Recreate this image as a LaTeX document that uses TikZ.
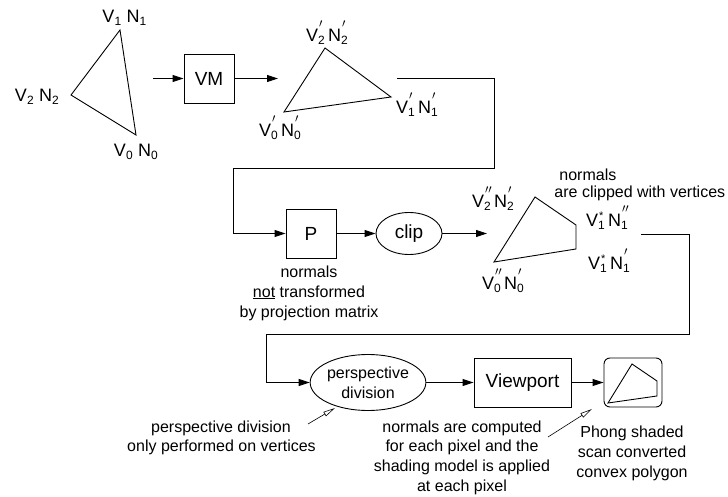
\documentclass[tikz,border=0pt]{standalone}
\usepackage{fontspec}
\setmainfont{Liberation Sans}
\usetikzlibrary{arrows.meta,shapes.geometric}
\newcommand\SB[2]{\makebox[7pt][l]{\rlap{\raisebox{-3pt}{\fontsize{12}{12}\selectfont #1}}#2}}
\newcommand\PR{\raisebox{14pt}{\hspace{1pt}$\scriptstyle\prime$}}
\newcommand\PPR{\raisebox{14pt}{\hspace{1pt}$\scriptstyle\prime\prime$}}
\newcommand\ST{\raisebox{7pt}{\hspace{1pt}\fontsize{11}{11}\selectfont *}}
\tikzset{
  box/.style={draw, minimum width=50pt, minimum height=49pt, inner sep=0pt, font=\fontsize{19}{22}\selectfont},
  ell/.style={draw, ellipse, inner sep=0pt},
  arr/.style={-{Triangle[length=11pt,width=7pt]}},
  narr/.style={-{Triangle[open,length=12pt,width=5pt]}, line width=0.6pt},
  vlab/.style={font=\fontsize{18}{20}\selectfont, inner sep=0pt},
  note/.style={font=\fontsize{16}{20}\selectfont, inner sep=0pt, anchor=base},
  poly/.style={line join=miter},
}
\begin{document}
\begin{tikzpicture}[x=1pt,y=-1pt,line width=0.9pt]
\useasboundingbox (0,0) rectangle (728,497);
% triangle 1
\coordinate (a1) at (120,30);
\coordinate (a2) at (71,95);
\coordinate (a0) at (136,135);
\draw[poly] (a1) -- (a2) -- (a0) -- cycle;
\node[vlab] (la1) at (124.5,18) {V\SB{1}{}\ N\SB{1}{}};
\node[vlab] (la2) at (37,97) {V\SB{2}{}\ N\SB{2}{}};
\node[vlab] (la0) at (136,152) {V\SB{0}{}\ N\SB{0}{}};
% VM
\node[box] (vm) at (209,78.5) {VM};
\coordinate (in0) at (153,78.5);
\coordinate (t2in) at (278,78.5);
\draw[arr] (in0) -- (vm);
\draw[arr] (vm) -- (t2in);
% triangle 2
\coordinate (b2) at (325,48);
\coordinate (b0) at (284,112);
\coordinate (b1) at (391,97);
\draw[poly] (b2) -- (b0) -- (b1) -- cycle;
\node[vlab] (lb2) at (327,33) {V\SB{2}{\PR}\,N\SB{2}{\PR}};
\node[vlab] (lb0) at (280,128) {V\SB{0}{\PR}\,N\SB{0}{\PR}};
\node[vlab] (lb1) at (417,105) {V\SB{1}{\PR}\,N\SB{1}{\PR}};
% loop 1
\coordinate (l1s) at (397,78.5);
\coordinate (l1b) at (494,168);
\coordinate (l1d) at (233,233.5);
% P and clip
\node[box] (p) at (311,233.5) {P};
\node[ell, minimum width=66pt, minimum height=42pt, font=\fontsize{19}{22}\selectfont] (clip) at (409,233.5) {clip};
\draw[arr] (l1s) -| (l1b) -| (l1d) -- (p);
\draw[arr] (p) -- (clip);
\coordinate (c2in) at (487,233.5);
\draw[arr] (clip) -- (c2in);
\node[note] (pn1) at (309,277) {normals};
\node[note] (pn2) at (309,297) {\underline{not} transformed};
\node[note] (pn3) at (309,317) {by projection matrix};
% clipped polygon
\coordinate (c2) at (535,197);
\coordinate (c1a) at (576,225);
\coordinate (c1b) at (576,249);
\coordinate (c0) at (494,262);
\draw[poly] (c2) -- (c1a) -- (c1b) -- (c0) -- cycle;
\node[vlab] (lc2) at (493,199) {V\SB{2}{\PPR}\,N\SB{2}{\PR}};
\node[vlab] (lc0) at (503,281) {V\SB{0}{\PPR}\,N\SB{0}{\PR}};
\node[vlab] (lc1a) at (607,218) {V\SB{1}{\ST}\,N\SB{1}{\PPR}};
\node[vlab] (lc1b) at (609,261) {V\SB{1}{\ST}\,N\SB{1}{\PR}};
\node[note, anchor=base west] (cn1) at (559,181) {normals};
\node[note, anchor=base west] (cn2) at (554,197) {are clipped with vertices};
% loop 2
\coordinate (l2s) at (641,234);
\coordinate (l2b) at (689,334);
\coordinate (l2d) at (266,382.5);
\node[ell, minimum width=98pt, minimum height=56pt, align=center, font=\fontsize{16}{20}\selectfont] (persp) at (368,382.5) {perspective\\division};
\draw[arr] (l2s) -| (l2b) -| (l2d) -- (persp);
\node[box, minimum width=97pt] (vp) at (522.5,382.5) {Viewport};
\node[draw, rounded corners=6pt, minimum width=58pt, minimum height=49pt, inner sep=0pt] (res) at (633,382.5) {};
\draw[arr] (persp) -- (vp);
\draw[arr] (vp) -- (res);
\coordinate (d2) at (632,364);
\coordinate (d1a) at (657,381);
\coordinate (d1b) at (657,396);
\coordinate (d0) at (608,403);
\draw[poly] (d2) -- (d1a) -- (d1b) -- (d0) -- cycle;
% annotations
\node[note] (ln1) at (221,432) {perspective division};
\node[note] (ln2) at (221.5,451) {only performed on vertices};
\coordinate (ls) at (308,424);
\coordinate (le) at (335,408);
\draw[narr] (ls) -- (le);
\node[note] (mn1) at (462,432) {normals are computed};
\node[note] (mn2) at (462,451) {for each pixel and the};
\node[note] (mn3) at (462,471) {shading model is applied};
\node[note] (mn4) at (462,491) {at each pixel};
\coordinate (ms) at (548,437);
\coordinate (me) at (592,409);
\draw[narr] (ms) -- (me);
\node[note] (rn1) at (632,437) {Phong shaded};
\node[note] (rn2) at (632,457) {scan converted};
\node[note] (rn3) at (632,477) {convex polygon};
\end{tikzpicture}
\end{document}
